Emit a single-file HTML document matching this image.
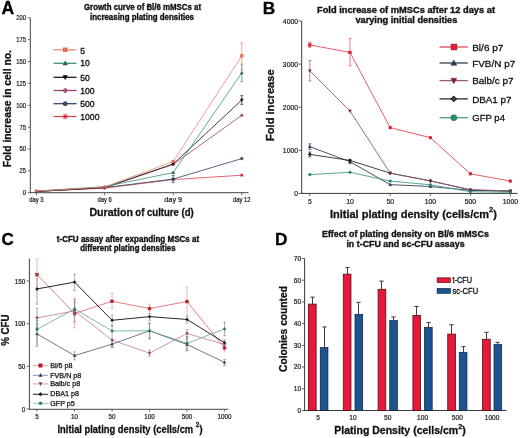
<!DOCTYPE html>
<html><head><meta charset="utf-8"><style>
html,body{margin:0;padding:0;background:#fff;}
body{width:520px;height:438px;overflow:hidden;}
svg{display:block;font-family:"Liberation Sans", sans-serif;will-change:transform;filter:blur(0.3px);}
</style></head><body>
<svg width="520" height="438" viewBox="0 0 520 438">
<rect width="520" height="438" fill="#fff"/>
<text x="1.60" y="13.70" font-size="17.6" font-weight="bold" fill="#000" stroke="#000" stroke-width="0.3">A</text>
<text x="84.00" y="9.80" font-size="8.8" font-weight="bold" fill="#111" stroke="#111" stroke-width="0.36" textLength="117" lengthAdjust="spacingAndGlyphs">Growth curve of Bl/6 mMSCs at</text>
<text x="90.00" y="20.20" font-size="8.8" font-weight="bold" fill="#111" stroke="#111" stroke-width="0.36" textLength="104" lengthAdjust="spacingAndGlyphs">increasing plating densities</text>
<line x1="30.30" y1="17.80" x2="30.30" y2="193.15" stroke="#3a3a3a" stroke-width="0.95"/>
<line x1="29.85" y1="192.70" x2="248.50" y2="192.70" stroke="#3a3a3a" stroke-width="0.95"/>
<line x1="27.70" y1="192.70" x2="30.30" y2="192.70" stroke="#3a3a3a" stroke-width="0.7"/>
<text x="26.10" y="195.20" font-size="6.9" text-anchor="end" fill="#1a1a1a" stroke="#1a1a1a" stroke-width="0.2" textLength="3.2804000000000006" lengthAdjust="spacingAndGlyphs">0</text>
<line x1="27.70" y1="170.84" x2="30.30" y2="170.84" stroke="#3a3a3a" stroke-width="0.7"/>
<text x="26.10" y="173.34" font-size="6.9" text-anchor="end" fill="#1a1a1a" stroke="#1a1a1a" stroke-width="0.2" textLength="6.560800000000001" lengthAdjust="spacingAndGlyphs">25</text>
<line x1="27.70" y1="148.97" x2="30.30" y2="148.97" stroke="#3a3a3a" stroke-width="0.7"/>
<text x="26.10" y="151.47" font-size="6.9" text-anchor="end" fill="#1a1a1a" stroke="#1a1a1a" stroke-width="0.2" textLength="6.560800000000001" lengthAdjust="spacingAndGlyphs">50</text>
<line x1="27.70" y1="127.11" x2="30.30" y2="127.11" stroke="#3a3a3a" stroke-width="0.7"/>
<text x="26.10" y="129.61" font-size="6.9" text-anchor="end" fill="#1a1a1a" stroke="#1a1a1a" stroke-width="0.2" textLength="6.560800000000001" lengthAdjust="spacingAndGlyphs">75</text>
<line x1="27.70" y1="105.25" x2="30.30" y2="105.25" stroke="#3a3a3a" stroke-width="0.7"/>
<text x="26.10" y="107.75" font-size="6.9" text-anchor="end" fill="#1a1a1a" stroke="#1a1a1a" stroke-width="0.2" textLength="9.841200000000002" lengthAdjust="spacingAndGlyphs">100</text>
<line x1="27.70" y1="83.39" x2="30.30" y2="83.39" stroke="#3a3a3a" stroke-width="0.7"/>
<text x="26.10" y="85.89" font-size="6.9" text-anchor="end" fill="#1a1a1a" stroke="#1a1a1a" stroke-width="0.2" textLength="9.841200000000002" lengthAdjust="spacingAndGlyphs">125</text>
<line x1="27.70" y1="61.53" x2="30.30" y2="61.53" stroke="#3a3a3a" stroke-width="0.7"/>
<text x="26.10" y="64.03" font-size="6.9" text-anchor="end" fill="#1a1a1a" stroke="#1a1a1a" stroke-width="0.2" textLength="9.841200000000002" lengthAdjust="spacingAndGlyphs">150</text>
<line x1="27.70" y1="39.66" x2="30.30" y2="39.66" stroke="#3a3a3a" stroke-width="0.7"/>
<text x="26.10" y="42.16" font-size="6.9" text-anchor="end" fill="#1a1a1a" stroke="#1a1a1a" stroke-width="0.2" textLength="9.841200000000002" lengthAdjust="spacingAndGlyphs">175</text>
<line x1="27.70" y1="17.80" x2="30.30" y2="17.80" stroke="#3a3a3a" stroke-width="0.7"/>
<text x="26.10" y="20.30" font-size="6.9" text-anchor="end" fill="#1a1a1a" stroke="#1a1a1a" stroke-width="0.2" textLength="9.841200000000002" lengthAdjust="spacingAndGlyphs">200</text>
<line x1="36.40" y1="192.70" x2="36.40" y2="195.30" stroke="#3a3a3a" stroke-width="0.7"/>
<text x="36.40" y="202.40" font-size="6.3" text-anchor="middle" fill="#1a1a1a" stroke="#1a1a1a" stroke-width="0.2" textLength="14.431400000000002" lengthAdjust="spacingAndGlyphs">day 3</text>
<line x1="104.60" y1="192.70" x2="104.60" y2="195.30" stroke="#3a3a3a" stroke-width="0.7"/>
<text x="104.60" y="202.40" font-size="6.3" text-anchor="middle" fill="#1a1a1a" stroke="#1a1a1a" stroke-width="0.2" textLength="14.431400000000002" lengthAdjust="spacingAndGlyphs">day 6</text>
<line x1="173.20" y1="192.70" x2="173.20" y2="195.30" stroke="#3a3a3a" stroke-width="0.7"/>
<text x="173.20" y="202.40" font-size="6.3" text-anchor="middle" fill="#1a1a1a" stroke="#1a1a1a" stroke-width="0.2" textLength="17.7118" lengthAdjust="spacingAndGlyphs">day 9</text>
<line x1="241.80" y1="192.70" x2="241.80" y2="195.30" stroke="#3a3a3a" stroke-width="0.7"/>
<text x="241.80" y="202.40" font-size="6.3" text-anchor="middle" fill="#1a1a1a" stroke="#1a1a1a" stroke-width="0.2" textLength="17.7118" lengthAdjust="spacingAndGlyphs">day 12</text>
<text x="89.40" y="216.00" font-size="10.4" font-weight="bold" fill="#111" stroke="#111" stroke-width="0.28" textLength="43.6" lengthAdjust="spacingAndGlyphs">Duration</text>
<text x="135.30" y="216.00" font-size="10.4" font-weight="bold" fill="#111" stroke="#111" stroke-width="0.28" textLength="58.5" lengthAdjust="spacingAndGlyphs">of culture (d)</text>
<text x="10.70" y="167.30" font-size="10.2" font-weight="bold" fill="#111" stroke="#111" stroke-width="0.28" textLength="117.3" lengthAdjust="spacingAndGlyphs" transform="rotate(-90 10.70 167.30)">Fold increase in cell no.</text>
<polyline points="36.40,191.39 104.60,188.15 173.20,179.58 241.80,175.21" fill="none" stroke="#d8404f" stroke-width="0.8" stroke-linejoin="round"/>
<path d="M35.20,191.39H37.60M36.40,190.19V192.59M35.50,190.49L37.30,192.29M35.50,192.29L37.30,190.49" stroke="#d0203a" stroke-width="1.0" fill="none"/>
<path d="M103.40,188.15H105.80M104.60,186.95V189.35M103.70,187.25L105.50,189.05M103.70,189.05L105.50,187.25" stroke="#d0203a" stroke-width="1.0" fill="none"/>
<path d="M171.64,179.58H174.76M173.20,178.02V181.14M172.03,178.41L174.37,180.75M172.03,180.75L174.37,178.41" stroke="#d0203a" stroke-width="1.0" fill="none"/>
<path d="M240.24,175.21H243.36M241.80,173.65V176.77M240.63,174.04L242.97,176.38M240.63,176.38L242.97,174.04" stroke="#d0203a" stroke-width="1.0" fill="none"/>
<polyline points="36.40,191.39 104.60,187.63 173.20,179.06 241.80,158.59" fill="none" stroke="#2a4264" stroke-width="0.8" stroke-linejoin="round"/>
<line x1="173.20" y1="175.56" x2="173.20" y2="182.56" stroke="#2a4264" stroke-width="0.7"/>
<line x1="171.80" y1="175.56" x2="174.60" y2="175.56" stroke="#2a4264" stroke-width="0.7"/>
<line x1="171.80" y1="182.56" x2="174.60" y2="182.56" stroke="#2a4264" stroke-width="0.7"/>
<circle cx="36.40" cy="191.39" r="1.00" fill="#3a5878" stroke="#14283f" stroke-width="0.5"/>
<circle cx="104.60" cy="187.63" r="1.00" fill="#3a5878" stroke="#14283f" stroke-width="0.5"/>
<circle cx="173.20" cy="179.06" r="1.30" fill="#3a5878" stroke="#14283f" stroke-width="0.5"/>
<circle cx="241.80" cy="158.59" r="1.30" fill="#3a5878" stroke="#14283f" stroke-width="0.5"/>
<polyline points="36.40,191.39 104.60,187.89 173.20,164.45 241.80,115.31" fill="none" stroke="#93406e" stroke-width="0.8" stroke-linejoin="round"/>
<path d="M36.40,190.19 L37.60,191.39 L36.40,192.59 L35.20,191.39 Z" fill="#b05585" stroke="#7a2050" stroke-width="0.5"/>
<path d="M104.60,186.69 L105.80,187.89 L104.60,189.09 L103.40,187.89 Z" fill="#b05585" stroke="#7a2050" stroke-width="0.5"/>
<path d="M173.20,162.89 L174.76,164.45 L173.20,166.01 L171.64,164.45 Z" fill="#b05585" stroke="#7a2050" stroke-width="0.5"/>
<path d="M241.80,113.75 L243.36,115.31 L241.80,116.87 L240.24,115.31 Z" fill="#b05585" stroke="#7a2050" stroke-width="0.5"/>
<polyline points="36.40,191.39 104.60,187.45 173.20,164.02 241.80,100.00" fill="none" stroke="#111111" stroke-width="0.8" stroke-linejoin="round"/>
<line x1="241.80" y1="95.63" x2="241.80" y2="104.38" stroke="#111111" stroke-width="0.7"/>
<line x1="240.40" y1="95.63" x2="243.20" y2="95.63" stroke="#111111" stroke-width="0.7"/>
<line x1="240.40" y1="104.38" x2="243.20" y2="104.38" stroke="#111111" stroke-width="0.7"/>
<path d="M36.40,192.54 L37.50,190.54 L35.30,190.54 Z" fill="#000" stroke="#000" stroke-width="0.5"/>
<path d="M104.60,188.60 L105.70,186.60 L103.50,186.60 Z" fill="#000" stroke="#000" stroke-width="0.5"/>
<path d="M173.20,165.51 L174.63,162.91 L171.77,162.91 Z" fill="#000" stroke="#000" stroke-width="0.5"/>
<path d="M241.80,101.50 L243.23,98.90 L240.37,98.90 Z" fill="#000" stroke="#000" stroke-width="0.5"/>
<polyline points="36.40,191.13 104.60,186.58 173.20,172.59 241.80,72.89" fill="none" stroke="#35907e" stroke-width="0.8" stroke-linejoin="round"/>
<line x1="241.80" y1="64.15" x2="241.80" y2="81.64" stroke="#35907e" stroke-width="0.7"/>
<line x1="240.40" y1="64.15" x2="243.20" y2="64.15" stroke="#35907e" stroke-width="0.7"/>
<line x1="240.40" y1="81.64" x2="243.20" y2="81.64" stroke="#35907e" stroke-width="0.7"/>
<path d="M36.40,189.98 L37.50,191.98 L35.30,191.98 Z" fill="#216a4c" stroke="#1a5a40" stroke-width="0.5"/>
<path d="M104.60,185.43 L105.70,187.43 L103.50,187.43 Z" fill="#216a4c" stroke="#1a5a40" stroke-width="0.5"/>
<path d="M173.20,171.09 L174.63,173.69 L171.77,173.69 Z" fill="#216a4c" stroke="#1a5a40" stroke-width="0.5"/>
<path d="M241.80,71.40 L243.23,74.00 L240.37,74.00 Z" fill="#216a4c" stroke="#1a5a40" stroke-width="0.5"/>
<polyline points="36.40,190.95 104.60,187.02 173.20,161.57 241.80,55.84" fill="none" stroke="#f0886a" stroke-width="0.8" stroke-linejoin="round"/>
<line x1="241.80" y1="43.16" x2="241.80" y2="69.40" stroke="#f0886a" stroke-width="0.7"/>
<line x1="240.40" y1="43.16" x2="243.20" y2="43.16" stroke="#f0886a" stroke-width="0.7"/>
<line x1="240.40" y1="69.40" x2="243.20" y2="69.40" stroke="#f0886a" stroke-width="0.7"/>
<rect x="35.40" y="189.95" width="2.00" height="2.00" fill="#f2765c" stroke="#d8553e" stroke-width="0.5"/>
<rect x="103.60" y="186.02" width="2.00" height="2.00" fill="#f2765c" stroke="#d8553e" stroke-width="0.5"/>
<rect x="171.90" y="160.27" width="2.60" height="2.60" fill="#f2765c" stroke="#d8553e" stroke-width="0.5"/>
<rect x="240.50" y="54.54" width="2.60" height="2.60" fill="#f2765c" stroke="#d8553e" stroke-width="0.5"/>
<line x1="53.50" y1="49.80" x2="76.60" y2="49.80" stroke="#f0886a" stroke-width="1.25"/>
<rect x="63.35" y="47.95" width="3.70" height="3.70" fill="#f2765c" stroke="#d8553e" stroke-width="0.7"/>
<text x="80.30" y="53.50" font-size="9.3" fill="#111" stroke="#111" stroke-width="0.35" textLength="4.7816" lengthAdjust="spacingAndGlyphs">5</text>
<line x1="53.50" y1="63.30" x2="76.60" y2="63.30" stroke="#35907e" stroke-width="1.25"/>
<path d="M65.20,61.00 L67.40,65.00 L63.00,65.00 Z" fill="#216a4c" stroke="#1a5a40" stroke-width="0.5"/>
<text x="80.30" y="66.40" font-size="9.3" fill="#111" stroke="#111" stroke-width="0.35" textLength="9.5632" lengthAdjust="spacingAndGlyphs">10</text>
<line x1="53.50" y1="77.30" x2="76.60" y2="77.30" stroke="#111111" stroke-width="1.25"/>
<path d="M65.20,79.60 L67.40,75.60 L63.00,75.60 Z" fill="#000" stroke="#000" stroke-width="0.5"/>
<text x="80.30" y="80.70" font-size="9.3" fill="#111" stroke="#111" stroke-width="0.35" textLength="9.5632" lengthAdjust="spacingAndGlyphs">50</text>
<line x1="53.50" y1="90.50" x2="76.60" y2="90.50" stroke="#93406e" stroke-width="1.25"/>
<path d="M65.20,88.22 L67.48,90.50 L65.20,92.78 L62.92,90.50 Z" fill="#b05585" stroke="#7a2050" stroke-width="0.8"/>
<text x="80.30" y="93.70" font-size="9.3" fill="#111" stroke="#111" stroke-width="0.35" textLength="14.3448" lengthAdjust="spacingAndGlyphs">100</text>
<line x1="53.50" y1="103.70" x2="76.60" y2="103.70" stroke="#2a4264" stroke-width="1.25"/>
<circle cx="65.20" cy="103.70" r="1.95" fill="#3a5878" stroke="#14283f" stroke-width="0.8"/>
<text x="80.30" y="106.90" font-size="9.3" fill="#111" stroke="#111" stroke-width="0.35" textLength="14.3448" lengthAdjust="spacingAndGlyphs">500</text>
<line x1="53.50" y1="116.50" x2="76.60" y2="116.50" stroke="#d8404f" stroke-width="1.25"/>
<path d="M62.32,116.50H68.08M65.20,113.62V119.38M63.04,114.34L67.36,118.66M63.04,118.66L67.36,114.34" stroke="#d0203a" stroke-width="1.0" fill="none"/>
<text x="80.30" y="119.60" font-size="9.3" fill="#111" stroke="#111" stroke-width="0.35" textLength="19.1264" lengthAdjust="spacingAndGlyphs">1000</text>
<text x="262.80" y="14.00" font-size="17.3" font-weight="bold" fill="#000" stroke="#000" stroke-width="0.3">B</text>
<text x="317.00" y="12.70" font-size="9.3" font-weight="bold" fill="#111" stroke="#111" stroke-width="0.36" textLength="178" lengthAdjust="spacingAndGlyphs">Fold increase of mMSCs after 12 days at</text>
<text x="355.40" y="23.00" font-size="9.3" font-weight="bold" fill="#111" stroke="#111" stroke-width="0.36" textLength="102" lengthAdjust="spacingAndGlyphs">varying initial densities</text>
<line x1="301.70" y1="21.00" x2="301.70" y2="193.90" stroke="#3a3a3a" stroke-width="1.0"/>
<line x1="301.20" y1="193.40" x2="517.50" y2="193.40" stroke="#3a3a3a" stroke-width="1.0"/>
<line x1="298.50" y1="193.40" x2="301.70" y2="193.40" stroke="#3a3a3a" stroke-width="0.8"/>
<text x="298.10" y="196.00" font-size="7.2" text-anchor="end" fill="#1a1a1a" stroke="#1a1a1a" stroke-width="0.2" textLength="3.8086" lengthAdjust="spacingAndGlyphs">0</text>
<line x1="298.50" y1="150.30" x2="301.70" y2="150.30" stroke="#3a3a3a" stroke-width="0.8"/>
<text x="298.10" y="152.90" font-size="7.2" text-anchor="end" fill="#1a1a1a" stroke="#1a1a1a" stroke-width="0.2" textLength="15.2344" lengthAdjust="spacingAndGlyphs">1000</text>
<line x1="298.50" y1="107.20" x2="301.70" y2="107.20" stroke="#3a3a3a" stroke-width="0.8"/>
<text x="298.10" y="109.80" font-size="7.2" text-anchor="end" fill="#1a1a1a" stroke="#1a1a1a" stroke-width="0.2" textLength="15.2344" lengthAdjust="spacingAndGlyphs">2000</text>
<line x1="298.50" y1="64.10" x2="301.70" y2="64.10" stroke="#3a3a3a" stroke-width="0.8"/>
<text x="298.10" y="66.70" font-size="7.2" text-anchor="end" fill="#1a1a1a" stroke="#1a1a1a" stroke-width="0.2" textLength="15.2344" lengthAdjust="spacingAndGlyphs">3000</text>
<line x1="298.50" y1="21.00" x2="301.70" y2="21.00" stroke="#3a3a3a" stroke-width="0.8"/>
<text x="298.10" y="23.60" font-size="7.2" text-anchor="end" fill="#1a1a1a" stroke="#1a1a1a" stroke-width="0.2" textLength="15.2344" lengthAdjust="spacingAndGlyphs">4000</text>
<line x1="309.80" y1="193.40" x2="309.80" y2="195.90" stroke="#3a3a3a" stroke-width="0.8"/>
<text x="309.80" y="203.60" font-size="7.2" text-anchor="middle" fill="#1a1a1a" stroke="#1a1a1a" stroke-width="0.2" textLength="3.8086" lengthAdjust="spacingAndGlyphs">5</text>
<line x1="350.00" y1="193.40" x2="350.00" y2="195.90" stroke="#3a3a3a" stroke-width="0.8"/>
<text x="350.00" y="203.60" font-size="7.2" text-anchor="middle" fill="#1a1a1a" stroke="#1a1a1a" stroke-width="0.2" textLength="7.6172" lengthAdjust="spacingAndGlyphs">10</text>
<line x1="390.20" y1="193.40" x2="390.20" y2="195.90" stroke="#3a3a3a" stroke-width="0.8"/>
<text x="390.20" y="203.60" font-size="7.2" text-anchor="middle" fill="#1a1a1a" stroke="#1a1a1a" stroke-width="0.2" textLength="7.6172" lengthAdjust="spacingAndGlyphs">50</text>
<line x1="430.40" y1="193.40" x2="430.40" y2="195.90" stroke="#3a3a3a" stroke-width="0.8"/>
<text x="430.40" y="203.60" font-size="7.2" text-anchor="middle" fill="#1a1a1a" stroke="#1a1a1a" stroke-width="0.2" textLength="11.4258" lengthAdjust="spacingAndGlyphs">100</text>
<line x1="470.40" y1="193.40" x2="470.40" y2="195.90" stroke="#3a3a3a" stroke-width="0.8"/>
<text x="470.40" y="203.60" font-size="7.2" text-anchor="middle" fill="#1a1a1a" stroke="#1a1a1a" stroke-width="0.2" textLength="11.4258" lengthAdjust="spacingAndGlyphs">500</text>
<line x1="510.40" y1="193.40" x2="510.40" y2="195.90" stroke="#3a3a3a" stroke-width="0.8"/>
<text x="510.40" y="203.60" font-size="7.2" text-anchor="middle" fill="#1a1a1a" stroke="#1a1a1a" stroke-width="0.2" textLength="15.2344" lengthAdjust="spacingAndGlyphs">1000</text>
<text x="330" y="218.2" font-size="11.3" font-weight="bold" fill="#111" stroke="#111" stroke-width="0.28" textLength="167" lengthAdjust="spacingAndGlyphs">Initial plating density (cells/cm<tspan font-size="7.8" dy="-5.8">2</tspan><tspan dy="5.8">)</tspan></text>
<text x="274.00" y="141.00" font-size="11.2" font-weight="bold" fill="#111" stroke="#111" stroke-width="0.28" textLength="71.6" lengthAdjust="spacingAndGlyphs" transform="rotate(-90 274.00 141.00)">Fold increase</text>
<polyline points="309.80,44.92 350.00,52.46 390.20,127.67 430.40,137.67 470.40,173.79 510.40,181.12" fill="none" stroke="#e04a58" stroke-width="0.9" stroke-linejoin="round"/>
<line x1="309.80" y1="42.12" x2="309.80" y2="47.29" stroke="#e04a58" stroke-width="0.7"/>
<line x1="308.20" y1="42.12" x2="311.40" y2="42.12" stroke="#e04a58" stroke-width="0.7"/>
<line x1="308.20" y1="47.29" x2="311.40" y2="47.29" stroke="#e04a58" stroke-width="0.7"/>
<line x1="350.00" y1="38.67" x2="350.00" y2="65.82" stroke="#e04a58" stroke-width="0.7"/>
<line x1="348.40" y1="38.67" x2="351.60" y2="38.67" stroke="#e04a58" stroke-width="0.7"/>
<line x1="348.40" y1="65.82" x2="351.60" y2="65.82" stroke="#e04a58" stroke-width="0.7"/>
<rect x="308.50" y="43.62" width="2.60" height="2.60" fill="#d81e34" stroke="#d81e34" stroke-width="0.5"/>
<rect x="348.70" y="51.16" width="2.60" height="2.60" fill="#d81e34" stroke="#d81e34" stroke-width="0.5"/>
<rect x="388.90" y="126.37" width="2.60" height="2.60" fill="#d81e34" stroke="#d81e34" stroke-width="0.5"/>
<rect x="429.10" y="136.37" width="2.60" height="2.60" fill="#d81e34" stroke="#d81e34" stroke-width="0.5"/>
<rect x="469.10" y="172.49" width="2.60" height="2.60" fill="#d81e34" stroke="#d81e34" stroke-width="0.5"/>
<rect x="509.10" y="179.82" width="2.60" height="2.60" fill="#d81e34" stroke="#d81e34" stroke-width="0.5"/>
<polyline points="309.80,146.64 350.00,161.72 390.20,184.65 430.40,186.50 470.40,190.38 510.40,191.03" fill="none" stroke="#363f55" stroke-width="0.9" stroke-linejoin="round"/>
<line x1="309.80" y1="143.84" x2="309.80" y2="149.44" stroke="#363f55" stroke-width="0.7"/>
<line x1="308.20" y1="143.84" x2="311.40" y2="143.84" stroke="#363f55" stroke-width="0.7"/>
<line x1="308.20" y1="149.44" x2="311.40" y2="149.44" stroke="#363f55" stroke-width="0.7"/>
<line x1="350.00" y1="159.35" x2="350.00" y2="163.66" stroke="#363f55" stroke-width="0.7"/>
<line x1="348.40" y1="159.35" x2="351.60" y2="159.35" stroke="#363f55" stroke-width="0.7"/>
<line x1="348.40" y1="163.66" x2="351.60" y2="163.66" stroke="#363f55" stroke-width="0.7"/>
<path d="M309.80,145.14 L311.23,147.74 L308.37,147.74 Z" fill="#22345a" stroke="#22345a" stroke-width="0.5"/>
<path d="M350.00,160.23 L351.43,162.83 L348.57,162.83 Z" fill="#22345a" stroke="#22345a" stroke-width="0.5"/>
<path d="M390.20,183.16 L391.63,185.76 L388.77,185.76 Z" fill="#22345a" stroke="#22345a" stroke-width="0.5"/>
<path d="M430.40,185.01 L431.83,187.61 L428.97,187.61 Z" fill="#22345a" stroke="#22345a" stroke-width="0.5"/>
<path d="M470.40,188.89 L471.83,191.49 L468.97,191.49 Z" fill="#22345a" stroke="#22345a" stroke-width="0.5"/>
<path d="M510.40,189.53 L511.83,192.13 L508.97,192.13 Z" fill="#22345a" stroke="#22345a" stroke-width="0.5"/>
<polyline points="309.80,154.39 350.00,160.43 390.20,173.14 430.40,180.90 470.40,189.95 510.40,191.25" fill="none" stroke="#2a2a2a" stroke-width="0.9" stroke-linejoin="round"/>
<line x1="309.80" y1="152.02" x2="309.80" y2="156.77" stroke="#2a2a2a" stroke-width="0.7"/>
<line x1="308.20" y1="152.02" x2="311.40" y2="152.02" stroke="#2a2a2a" stroke-width="0.7"/>
<line x1="308.20" y1="156.77" x2="311.40" y2="156.77" stroke="#2a2a2a" stroke-width="0.7"/>
<path d="M309.80,152.83 L311.36,154.39 L309.80,155.95 L308.24,154.39 Z" fill="#111111" stroke="#111111" stroke-width="0.5"/>
<path d="M350.00,158.87 L351.56,160.43 L350.00,161.99 L348.44,160.43 Z" fill="#111111" stroke="#111111" stroke-width="0.5"/>
<path d="M390.20,171.58 L391.76,173.14 L390.20,174.70 L388.64,173.14 Z" fill="#111111" stroke="#111111" stroke-width="0.5"/>
<path d="M430.40,179.34 L431.96,180.90 L430.40,182.46 L428.84,180.90 Z" fill="#111111" stroke="#111111" stroke-width="0.5"/>
<path d="M470.40,188.39 L471.96,189.95 L470.40,191.51 L468.84,189.95 Z" fill="#111111" stroke="#111111" stroke-width="0.5"/>
<path d="M510.40,189.69 L511.96,191.25 L510.40,192.81 L508.84,191.25 Z" fill="#111111" stroke="#111111" stroke-width="0.5"/>
<polyline points="309.80,70.78 350.00,110.99 390.20,173.14 430.40,180.90 470.40,189.74 510.40,190.81" fill="none" stroke="#925c7c" stroke-width="0.9" stroke-linejoin="round"/>
<line x1="309.80" y1="60.65" x2="309.80" y2="80.91" stroke="#925c7c" stroke-width="0.7"/>
<line x1="308.20" y1="60.65" x2="311.40" y2="60.65" stroke="#925c7c" stroke-width="0.7"/>
<line x1="308.20" y1="80.91" x2="311.40" y2="80.91" stroke="#925c7c" stroke-width="0.7"/>
<path d="M309.80,72.28 L311.23,69.68 L308.37,69.68 Z" fill="#7a2448" stroke="#7a2448" stroke-width="0.5"/>
<path d="M350.00,112.49 L351.43,109.89 L348.57,109.89 Z" fill="#7a2448" stroke="#7a2448" stroke-width="0.5"/>
<path d="M390.20,174.64 L391.63,172.04 L388.77,172.04 Z" fill="#7a2448" stroke="#7a2448" stroke-width="0.5"/>
<path d="M430.40,182.40 L431.83,179.80 L428.97,179.80 Z" fill="#7a2448" stroke="#7a2448" stroke-width="0.5"/>
<path d="M470.40,191.23 L471.83,188.63 L468.97,188.63 Z" fill="#7a2448" stroke="#7a2448" stroke-width="0.5"/>
<path d="M510.40,192.31 L511.83,189.71 L508.97,189.71 Z" fill="#7a2448" stroke="#7a2448" stroke-width="0.5"/>
<polyline points="309.80,174.65 350.00,172.28 390.20,181.12 430.40,184.78 470.40,191.68 510.40,192.32" fill="none" stroke="#4a9a8c" stroke-width="0.9" stroke-linejoin="round"/>
<circle cx="309.80" cy="174.65" r="1.30" fill="#2a8068" stroke="#2a8068" stroke-width="0.5"/>
<circle cx="350.00" cy="172.28" r="1.30" fill="#2a8068" stroke="#2a8068" stroke-width="0.5"/>
<circle cx="390.20" cy="181.12" r="1.30" fill="#2a8068" stroke="#2a8068" stroke-width="0.5"/>
<circle cx="430.40" cy="184.78" r="1.30" fill="#2a8068" stroke="#2a8068" stroke-width="0.5"/>
<circle cx="470.40" cy="191.68" r="1.30" fill="#2a8068" stroke="#2a8068" stroke-width="0.5"/>
<circle cx="510.40" cy="192.32" r="1.30" fill="#2a8068" stroke="#2a8068" stroke-width="0.5"/>
<line x1="439.50" y1="47.00" x2="467.80" y2="47.00" stroke="#e04a58" stroke-width="1.3"/>
<rect x="451.10" y="44.10" width="5.80" height="5.80" fill="#e8203a" stroke="#8a1020" stroke-width="0.6"/>
<text x="472.20" y="50.80" font-size="9.8" fill="#111" stroke="#111" stroke-width="0.3" textLength="31.2" lengthAdjust="spacingAndGlyphs">Bl/6 p7</text>
<line x1="439.50" y1="63.00" x2="467.80" y2="63.00" stroke="#363f55" stroke-width="1.3"/>
<path d="M453.80,59.90 L456.77,65.30 L450.83,65.30 Z" fill="#22345a" stroke="#22345a" stroke-width="0.5"/>
<text x="472.20" y="66.50" font-size="9.8" fill="#111" stroke="#111" stroke-width="0.3" textLength="43.0" lengthAdjust="spacingAndGlyphs">FVB/N p7</text>
<line x1="439.50" y1="80.60" x2="467.80" y2="80.60" stroke="#925c7c" stroke-width="1.3"/>
<path d="M453.80,83.70 L456.77,78.30 L450.83,78.30 Z" fill="#7a2448" stroke="#7a2448" stroke-width="0.5"/>
<text x="472.20" y="84.30" font-size="9.8" fill="#111" stroke="#111" stroke-width="0.3" textLength="41.2" lengthAdjust="spacingAndGlyphs">Balb/c p7</text>
<line x1="439.50" y1="98.90" x2="467.80" y2="98.90" stroke="#2a2a2a" stroke-width="1.3"/>
<path d="M453.70,96.02 L456.58,98.90 L453.70,101.78 L450.82,98.90 Z" fill="#444" stroke="#000" stroke-width="0.9"/>
<text x="472.20" y="103.00" font-size="9.8" fill="#111" stroke="#111" stroke-width="0.3" textLength="39.3" lengthAdjust="spacingAndGlyphs">DBA1 p7</text>
<line x1="439.50" y1="117.70" x2="467.80" y2="117.70" stroke="#4a9a8c" stroke-width="1.3"/>
<circle cx="453.80" cy="117.70" r="3.00" fill="#2e8f72" stroke="#1f6a52" stroke-width="0.6"/>
<text x="472.20" y="121.40" font-size="9.8" fill="#111" stroke="#111" stroke-width="0.3" textLength="32.8" lengthAdjust="spacingAndGlyphs">GFP p4</text>
<text x="1.60" y="244.80" font-size="17.0" font-weight="bold" fill="#000" stroke="#000" stroke-width="0.3">C</text>
<text x="56.80" y="242.20" font-size="8.3" font-weight="bold" fill="#111" stroke="#111" stroke-width="0.36" textLength="142.4" lengthAdjust="spacingAndGlyphs">t-CFU assay after expanding MSCs at</text>
<text x="80.20" y="250.70" font-size="8.3" font-weight="bold" fill="#111" stroke="#111" stroke-width="0.36" textLength="95.4" lengthAdjust="spacingAndGlyphs">different plating densities</text>
<line x1="29.40" y1="258.60" x2="29.40" y2="409.75" stroke="#3a3a3a" stroke-width="0.95"/>
<line x1="28.95" y1="409.30" x2="228.30" y2="409.30" stroke="#3a3a3a" stroke-width="0.95"/>
<line x1="26.40" y1="408.90" x2="29.40" y2="408.90" stroke="#3a3a3a" stroke-width="0.7"/>
<text x="25.20" y="411.50" font-size="6.3" text-anchor="end" fill="#1a1a1a" stroke="#1a1a1a" stroke-width="0.2">0</text>
<line x1="26.40" y1="366.30" x2="29.40" y2="366.30" stroke="#3a3a3a" stroke-width="0.7"/>
<text x="25.20" y="368.90" font-size="6.3" text-anchor="end" fill="#1a1a1a" stroke="#1a1a1a" stroke-width="0.2">50</text>
<line x1="26.40" y1="323.70" x2="29.40" y2="323.70" stroke="#3a3a3a" stroke-width="0.7"/>
<text x="25.20" y="326.30" font-size="6.3" text-anchor="end" fill="#1a1a1a" stroke="#1a1a1a" stroke-width="0.2">100</text>
<line x1="26.40" y1="281.10" x2="29.40" y2="281.10" stroke="#3a3a3a" stroke-width="0.7"/>
<text x="25.20" y="283.70" font-size="6.3" text-anchor="end" fill="#1a1a1a" stroke="#1a1a1a" stroke-width="0.2">150</text>
<line x1="37.00" y1="409.30" x2="37.00" y2="411.60" stroke="#3a3a3a" stroke-width="0.7"/>
<text x="37.00" y="418.60" font-size="6.3" text-anchor="middle" fill="#1a1a1a" stroke="#1a1a1a" stroke-width="0.2">5</text>
<line x1="74.60" y1="409.30" x2="74.60" y2="411.60" stroke="#3a3a3a" stroke-width="0.7"/>
<text x="74.60" y="418.60" font-size="6.3" text-anchor="middle" fill="#1a1a1a" stroke="#1a1a1a" stroke-width="0.2">10</text>
<line x1="112.10" y1="409.30" x2="112.10" y2="411.60" stroke="#3a3a3a" stroke-width="0.7"/>
<text x="112.10" y="418.60" font-size="6.3" text-anchor="middle" fill="#1a1a1a" stroke="#1a1a1a" stroke-width="0.2">50</text>
<line x1="149.50" y1="409.30" x2="149.50" y2="411.60" stroke="#3a3a3a" stroke-width="0.7"/>
<text x="149.50" y="418.60" font-size="6.3" text-anchor="middle" fill="#1a1a1a" stroke="#1a1a1a" stroke-width="0.2">100</text>
<line x1="187.00" y1="409.30" x2="187.00" y2="411.60" stroke="#3a3a3a" stroke-width="0.7"/>
<text x="187.00" y="418.60" font-size="6.3" text-anchor="middle" fill="#1a1a1a" stroke="#1a1a1a" stroke-width="0.2">500</text>
<line x1="224.50" y1="409.30" x2="224.50" y2="411.60" stroke="#3a3a3a" stroke-width="0.7"/>
<text x="224.50" y="418.60" font-size="6.3" text-anchor="middle" fill="#1a1a1a" stroke="#1a1a1a" stroke-width="0.2">1000</text>
<text x="57.5" y="432.8" font-size="10.4" font-weight="bold" fill="#111" stroke="#111" stroke-width="0.28" textLength="145" lengthAdjust="spacingAndGlyphs">Initial plating density (cells/cm <tspan font-size="7.2" dy="-5.4">2</tspan><tspan dy="5.4">)</tspan></text>
<text x="9.00" y="345.80" font-size="10.0" font-weight="bold" fill="#111" stroke="#111" stroke-width="0.28" textLength="31.4" lengthAdjust="spacingAndGlyphs" transform="rotate(-90 9.00 345.80)">% CFU</text>
<polyline points="37.00,274.54 74.60,313.48 112.10,301.29 149.50,308.53 187.00,301.55 224.50,347.81" fill="none" stroke="#e0505c" stroke-width="0.75" stroke-linejoin="round"/>
<line x1="37.00" y1="258.95" x2="37.00" y2="290.47" stroke="#e88890" stroke-width="0.6"/>
<line x1="35.70" y1="258.95" x2="38.30" y2="258.95" stroke="#e88890" stroke-width="0.6"/>
<line x1="35.70" y1="290.47" x2="38.30" y2="290.47" stroke="#e88890" stroke-width="0.6"/>
<line x1="74.60" y1="298.14" x2="74.60" y2="327.96" stroke="#e88890" stroke-width="0.6"/>
<line x1="73.30" y1="298.14" x2="75.90" y2="298.14" stroke="#e88890" stroke-width="0.6"/>
<line x1="73.30" y1="327.96" x2="75.90" y2="327.96" stroke="#e88890" stroke-width="0.6"/>
<line x1="112.10" y1="293.45" x2="112.10" y2="308.36" stroke="#e88890" stroke-width="0.6"/>
<line x1="110.80" y1="293.45" x2="113.40" y2="293.45" stroke="#e88890" stroke-width="0.6"/>
<line x1="110.80" y1="308.36" x2="113.40" y2="308.36" stroke="#e88890" stroke-width="0.6"/>
<line x1="149.50" y1="304.10" x2="149.50" y2="311.77" stroke="#e88890" stroke-width="0.6"/>
<line x1="148.20" y1="304.10" x2="150.80" y2="304.10" stroke="#e88890" stroke-width="0.6"/>
<line x1="148.20" y1="311.77" x2="150.80" y2="311.77" stroke="#e88890" stroke-width="0.6"/>
<line x1="187.00" y1="287.06" x2="187.00" y2="316.03" stroke="#e88890" stroke-width="0.6"/>
<line x1="185.70" y1="287.06" x2="188.30" y2="287.06" stroke="#e88890" stroke-width="0.6"/>
<line x1="185.70" y1="316.03" x2="188.30" y2="316.03" stroke="#e88890" stroke-width="0.6"/>
<line x1="224.50" y1="344.15" x2="224.50" y2="351.82" stroke="#e88890" stroke-width="0.6"/>
<line x1="223.20" y1="344.15" x2="225.80" y2="344.15" stroke="#e88890" stroke-width="0.6"/>
<line x1="223.20" y1="351.82" x2="225.80" y2="351.82" stroke="#e88890" stroke-width="0.6"/>
<rect x="35.60" y="273.14" width="2.80" height="2.80" fill="#b0202e" stroke="#b0202e" stroke-width="0.5"/>
<rect x="73.20" y="312.08" width="2.80" height="2.80" fill="#b0202e" stroke="#b0202e" stroke-width="0.5"/>
<rect x="110.70" y="299.89" width="2.80" height="2.80" fill="#b0202e" stroke="#b0202e" stroke-width="0.5"/>
<rect x="148.10" y="307.13" width="2.80" height="2.80" fill="#b0202e" stroke="#b0202e" stroke-width="0.5"/>
<rect x="185.60" y="300.15" width="2.80" height="2.80" fill="#b0202e" stroke="#b0202e" stroke-width="0.5"/>
<rect x="223.10" y="346.41" width="2.80" height="2.80" fill="#b0202e" stroke="#b0202e" stroke-width="0.5"/>
<polyline points="37.00,333.92 74.60,355.56 112.10,344.15 149.50,330.77 187.00,344.49 224.50,362.30" fill="none" stroke="#3e4c62" stroke-width="0.75" stroke-linejoin="round"/>
<line x1="37.00" y1="323.70" x2="37.00" y2="344.15" stroke="#777" stroke-width="0.6"/>
<line x1="35.70" y1="323.70" x2="38.30" y2="323.70" stroke="#777" stroke-width="0.6"/>
<line x1="35.70" y1="344.15" x2="38.30" y2="344.15" stroke="#777" stroke-width="0.6"/>
<line x1="74.60" y1="351.82" x2="74.60" y2="359.91" stroke="#777" stroke-width="0.6"/>
<line x1="73.30" y1="351.82" x2="75.90" y2="351.82" stroke="#777" stroke-width="0.6"/>
<line x1="73.30" y1="359.91" x2="75.90" y2="359.91" stroke="#777" stroke-width="0.6"/>
<line x1="112.10" y1="340.74" x2="112.10" y2="347.56" stroke="#777" stroke-width="0.6"/>
<line x1="110.80" y1="340.74" x2="113.40" y2="340.74" stroke="#777" stroke-width="0.6"/>
<line x1="110.80" y1="347.56" x2="113.40" y2="347.56" stroke="#777" stroke-width="0.6"/>
<line x1="149.50" y1="323.70" x2="149.50" y2="338.18" stroke="#777" stroke-width="0.6"/>
<line x1="148.20" y1="323.70" x2="150.80" y2="323.70" stroke="#777" stroke-width="0.6"/>
<line x1="148.20" y1="338.18" x2="150.80" y2="338.18" stroke="#777" stroke-width="0.6"/>
<line x1="187.00" y1="339.04" x2="187.00" y2="350.96" stroke="#777" stroke-width="0.6"/>
<line x1="185.70" y1="339.04" x2="188.30" y2="339.04" stroke="#777" stroke-width="0.6"/>
<line x1="185.70" y1="350.96" x2="188.30" y2="350.96" stroke="#777" stroke-width="0.6"/>
<line x1="224.50" y1="359.48" x2="224.50" y2="365.45" stroke="#777" stroke-width="0.6"/>
<line x1="223.20" y1="359.48" x2="225.80" y2="359.48" stroke="#777" stroke-width="0.6"/>
<line x1="223.20" y1="365.45" x2="225.80" y2="365.45" stroke="#777" stroke-width="0.6"/>
<path d="M37.00,332.54 L38.32,334.94 L35.68,334.94 Z" fill="#22365a" stroke="#22365a" stroke-width="0.5"/>
<path d="M74.60,354.18 L75.92,356.58 L73.28,356.58 Z" fill="#22365a" stroke="#22365a" stroke-width="0.5"/>
<path d="M112.10,342.77 L113.42,345.17 L110.78,345.17 Z" fill="#22365a" stroke="#22365a" stroke-width="0.5"/>
<path d="M149.50,329.39 L150.82,331.79 L148.18,331.79 Z" fill="#22365a" stroke="#22365a" stroke-width="0.5"/>
<path d="M187.00,343.11 L188.32,345.51 L185.68,345.51 Z" fill="#22365a" stroke="#22365a" stroke-width="0.5"/>
<path d="M224.50,360.92 L225.82,363.32 L223.18,363.32 Z" fill="#22365a" stroke="#22365a" stroke-width="0.5"/>
<polyline points="37.00,317.91 74.60,310.92 112.10,340.14 149.50,353.18 187.00,333.50 224.50,344.49" fill="none" stroke="#c0709a" stroke-width="0.75" stroke-linejoin="round"/>
<line x1="37.00" y1="308.36" x2="37.00" y2="327.96" stroke="#777" stroke-width="0.6"/>
<line x1="35.70" y1="308.36" x2="38.30" y2="308.36" stroke="#777" stroke-width="0.6"/>
<line x1="35.70" y1="327.96" x2="38.30" y2="327.96" stroke="#777" stroke-width="0.6"/>
<line x1="74.60" y1="299.84" x2="74.60" y2="322.00" stroke="#777" stroke-width="0.6"/>
<line x1="73.30" y1="299.84" x2="75.90" y2="299.84" stroke="#777" stroke-width="0.6"/>
<line x1="73.30" y1="322.00" x2="75.90" y2="322.00" stroke="#777" stroke-width="0.6"/>
<line x1="149.50" y1="350.11" x2="149.50" y2="356.08" stroke="#777" stroke-width="0.6"/>
<line x1="148.20" y1="350.11" x2="150.80" y2="350.11" stroke="#777" stroke-width="0.6"/>
<line x1="148.20" y1="356.08" x2="150.80" y2="356.08" stroke="#777" stroke-width="0.6"/>
<line x1="187.00" y1="329.66" x2="187.00" y2="337.33" stroke="#777" stroke-width="0.6"/>
<line x1="185.70" y1="329.66" x2="188.30" y2="329.66" stroke="#777" stroke-width="0.6"/>
<line x1="185.70" y1="337.33" x2="188.30" y2="337.33" stroke="#777" stroke-width="0.6"/>
<path d="M37.00,319.29 L38.32,316.89 L35.68,316.89 Z" fill="#8a3a66" stroke="#8a3a66" stroke-width="0.5"/>
<path d="M74.60,312.30 L75.92,309.90 L73.28,309.90 Z" fill="#8a3a66" stroke="#8a3a66" stroke-width="0.5"/>
<path d="M112.10,341.52 L113.42,339.12 L110.78,339.12 Z" fill="#8a3a66" stroke="#8a3a66" stroke-width="0.5"/>
<path d="M149.50,354.56 L150.82,352.16 L148.18,352.16 Z" fill="#8a3a66" stroke="#8a3a66" stroke-width="0.5"/>
<path d="M187.00,334.88 L188.32,332.48 L185.68,332.48 Z" fill="#8a3a66" stroke="#8a3a66" stroke-width="0.5"/>
<path d="M224.50,345.87 L225.82,343.47 L223.18,343.47 Z" fill="#8a3a66" stroke="#8a3a66" stroke-width="0.5"/>
<polyline points="37.00,288.94 74.60,282.12 112.10,320.29 149.50,316.63 187.00,319.44 224.50,342.61" fill="none" stroke="#1a1a1a" stroke-width="0.95" stroke-linejoin="round"/>
<line x1="37.00" y1="274.28" x2="37.00" y2="304.10" stroke="#777" stroke-width="0.6"/>
<line x1="35.70" y1="274.28" x2="38.30" y2="274.28" stroke="#777" stroke-width="0.6"/>
<line x1="35.70" y1="304.10" x2="38.30" y2="304.10" stroke="#777" stroke-width="0.6"/>
<line x1="74.60" y1="274.28" x2="74.60" y2="290.47" stroke="#777" stroke-width="0.6"/>
<line x1="73.30" y1="274.28" x2="75.90" y2="274.28" stroke="#777" stroke-width="0.6"/>
<line x1="73.30" y1="290.47" x2="75.90" y2="290.47" stroke="#777" stroke-width="0.6"/>
<line x1="112.10" y1="315.18" x2="112.10" y2="325.40" stroke="#777" stroke-width="0.6"/>
<line x1="110.80" y1="315.18" x2="113.40" y2="315.18" stroke="#777" stroke-width="0.6"/>
<line x1="110.80" y1="325.40" x2="113.40" y2="325.40" stroke="#777" stroke-width="0.6"/>
<line x1="149.50" y1="313.48" x2="149.50" y2="320.29" stroke="#777" stroke-width="0.6"/>
<line x1="148.20" y1="313.48" x2="150.80" y2="313.48" stroke="#777" stroke-width="0.6"/>
<line x1="148.20" y1="320.29" x2="150.80" y2="320.29" stroke="#777" stroke-width="0.6"/>
<line x1="187.00" y1="316.03" x2="187.00" y2="322.85" stroke="#777" stroke-width="0.6"/>
<line x1="185.70" y1="316.03" x2="188.30" y2="316.03" stroke="#777" stroke-width="0.6"/>
<line x1="185.70" y1="322.85" x2="188.30" y2="322.85" stroke="#777" stroke-width="0.6"/>
<line x1="224.50" y1="339.89" x2="224.50" y2="345.85" stroke="#777" stroke-width="0.6"/>
<line x1="223.20" y1="339.89" x2="225.80" y2="339.89" stroke="#777" stroke-width="0.6"/>
<line x1="223.20" y1="345.85" x2="225.80" y2="345.85" stroke="#777" stroke-width="0.6"/>
<path d="M37.00,287.50 L38.44,288.94 L37.00,290.38 L35.56,288.94 Z" fill="#111111" stroke="#111111" stroke-width="0.5"/>
<path d="M74.60,280.68 L76.04,282.12 L74.60,283.56 L73.16,282.12 Z" fill="#111111" stroke="#111111" stroke-width="0.5"/>
<path d="M112.10,318.85 L113.54,320.29 L112.10,321.73 L110.66,320.29 Z" fill="#111111" stroke="#111111" stroke-width="0.5"/>
<path d="M149.50,315.19 L150.94,316.63 L149.50,318.07 L148.06,316.63 Z" fill="#111111" stroke="#111111" stroke-width="0.5"/>
<path d="M187.00,318.00 L188.44,319.44 L187.00,320.88 L185.56,319.44 Z" fill="#111111" stroke="#111111" stroke-width="0.5"/>
<path d="M224.50,341.17 L225.94,342.61 L224.50,344.05 L223.06,342.61 Z" fill="#111111" stroke="#111111" stroke-width="0.5"/>
<polyline points="37.00,329.32 74.60,308.96 112.10,330.94 149.50,330.77 187.00,343.30 224.50,328.90" fill="none" stroke="#55a096" stroke-width="0.75" stroke-linejoin="round"/>
<line x1="37.00" y1="320.29" x2="37.00" y2="346.70" stroke="#777" stroke-width="0.6"/>
<line x1="35.70" y1="320.29" x2="38.30" y2="320.29" stroke="#777" stroke-width="0.6"/>
<line x1="35.70" y1="346.70" x2="38.30" y2="346.70" stroke="#777" stroke-width="0.6"/>
<line x1="74.60" y1="302.40" x2="74.60" y2="315.18" stroke="#777" stroke-width="0.6"/>
<line x1="73.30" y1="302.40" x2="75.90" y2="302.40" stroke="#777" stroke-width="0.6"/>
<line x1="73.30" y1="315.18" x2="75.90" y2="315.18" stroke="#777" stroke-width="0.6"/>
<line x1="112.10" y1="326.26" x2="112.10" y2="347.56" stroke="#777" stroke-width="0.6"/>
<line x1="110.80" y1="326.26" x2="113.40" y2="326.26" stroke="#777" stroke-width="0.6"/>
<line x1="110.80" y1="347.56" x2="113.40" y2="347.56" stroke="#777" stroke-width="0.6"/>
<line x1="149.50" y1="322.85" x2="149.50" y2="339.04" stroke="#777" stroke-width="0.6"/>
<line x1="148.20" y1="322.85" x2="150.80" y2="322.85" stroke="#777" stroke-width="0.6"/>
<line x1="148.20" y1="339.04" x2="150.80" y2="339.04" stroke="#777" stroke-width="0.6"/>
<line x1="187.00" y1="336.48" x2="187.00" y2="350.11" stroke="#777" stroke-width="0.6"/>
<line x1="185.70" y1="336.48" x2="188.30" y2="336.48" stroke="#777" stroke-width="0.6"/>
<line x1="185.70" y1="350.11" x2="188.30" y2="350.11" stroke="#777" stroke-width="0.6"/>
<line x1="224.50" y1="322.00" x2="224.50" y2="335.63" stroke="#777" stroke-width="0.6"/>
<line x1="223.20" y1="322.00" x2="225.80" y2="322.00" stroke="#777" stroke-width="0.6"/>
<line x1="223.20" y1="335.63" x2="225.80" y2="335.63" stroke="#777" stroke-width="0.6"/>
<circle cx="37.00" cy="329.32" r="1.20" fill="#2a7a66" stroke="#2a7a66" stroke-width="0.5"/>
<circle cx="74.60" cy="308.96" r="1.20" fill="#2a7a66" stroke="#2a7a66" stroke-width="0.5"/>
<circle cx="112.10" cy="330.94" r="1.20" fill="#2a7a66" stroke="#2a7a66" stroke-width="0.5"/>
<circle cx="149.50" cy="330.77" r="1.20" fill="#2a7a66" stroke="#2a7a66" stroke-width="0.5"/>
<circle cx="187.00" cy="343.30" r="1.20" fill="#2a7a66" stroke="#2a7a66" stroke-width="0.5"/>
<circle cx="224.50" cy="328.90" r="1.20" fill="#2a7a66" stroke="#2a7a66" stroke-width="0.5"/>
<line x1="32.80" y1="365.50" x2="48.00" y2="365.50" stroke="#f0a0a8" stroke-width="1.0"/>
<rect x="38.80" y="363.80" width="3.40" height="3.40" fill="#b0202e" stroke="#b0202e" stroke-width="0.5"/>
<text x="50.20" y="368.20" font-size="7.2" fill="#111" stroke="#111" stroke-width="0.25">Bl/6 p8</text>
<line x1="32.80" y1="375.30" x2="48.00" y2="375.30" stroke="#8898b8" stroke-width="1.0"/>
<path d="M40.50,373.57 L42.15,376.57 L38.85,376.57 Z" fill="#22365a" stroke="#22365a" stroke-width="0.5"/>
<text x="50.20" y="377.60" font-size="7.2" fill="#111" stroke="#111" stroke-width="0.25">FVB/N p8</text>
<line x1="32.80" y1="383.90" x2="48.00" y2="383.90" stroke="#d8a8c0" stroke-width="1.0"/>
<path d="M40.50,385.62 L42.15,382.62 L38.85,382.62 Z" fill="#8a3a66" stroke="#8a3a66" stroke-width="0.5"/>
<text x="50.20" y="386.30" font-size="7.2" fill="#111" stroke="#111" stroke-width="0.25">Balb/c p8</text>
<line x1="32.80" y1="394.30" x2="48.00" y2="394.30" stroke="#222222" stroke-width="1.0"/>
<path d="M40.50,392.50 L42.30,394.30 L40.50,396.10 L38.70,394.30 Z" fill="#111111" stroke="#111111" stroke-width="0.5"/>
<text x="50.20" y="396.10" font-size="7.2" fill="#111" stroke="#111" stroke-width="0.25">DBA1 p8</text>
<line x1="32.80" y1="403.30" x2="48.00" y2="403.30" stroke="#98c8b8" stroke-width="1.0"/>
<circle cx="40.50" cy="403.30" r="1.50" fill="#2a7a66" stroke="#2a7a66" stroke-width="0.5"/>
<text x="50.20" y="405.50" font-size="7.2" fill="#111" stroke="#111" stroke-width="0.25">GFP p5</text>
<text x="275.00" y="244.80" font-size="17.3" font-weight="bold" fill="#000" stroke="#000" stroke-width="0.3">D</text>
<text x="322.00" y="236.70" font-size="9.0" font-weight="bold" fill="#111" stroke="#111" stroke-width="0.36" textLength="166.8" lengthAdjust="spacingAndGlyphs">Effect of plating density on Bl/6 mMSCs</text>
<text x="346.40" y="246.60" font-size="9.0" font-weight="bold" fill="#111" stroke="#111" stroke-width="0.36" textLength="118.2" lengthAdjust="spacingAndGlyphs">in t-CFU and sc-CFU assays</text>
<line x1="304.60" y1="258.50" x2="304.60" y2="411.00" stroke="#3a3a3a" stroke-width="1.0"/>
<line x1="304.10" y1="410.50" x2="506.50" y2="410.50" stroke="#3a3a3a" stroke-width="1.0"/>
<line x1="301.80" y1="410.50" x2="304.60" y2="410.50" stroke="#3a3a3a" stroke-width="0.8"/>
<text x="301.20" y="412.80" font-size="6.6" text-anchor="end" fill="#1a1a1a" stroke="#1a1a1a" stroke-width="0.2">0</text>
<line x1="301.80" y1="388.79" x2="304.60" y2="388.79" stroke="#3a3a3a" stroke-width="0.8"/>
<text x="301.20" y="391.09" font-size="6.6" text-anchor="end" fill="#1a1a1a" stroke="#1a1a1a" stroke-width="0.2">10</text>
<line x1="301.80" y1="367.07" x2="304.60" y2="367.07" stroke="#3a3a3a" stroke-width="0.8"/>
<text x="301.20" y="369.37" font-size="6.6" text-anchor="end" fill="#1a1a1a" stroke="#1a1a1a" stroke-width="0.2">20</text>
<line x1="301.80" y1="345.36" x2="304.60" y2="345.36" stroke="#3a3a3a" stroke-width="0.8"/>
<text x="301.20" y="347.66" font-size="6.6" text-anchor="end" fill="#1a1a1a" stroke="#1a1a1a" stroke-width="0.2">30</text>
<line x1="301.80" y1="323.64" x2="304.60" y2="323.64" stroke="#3a3a3a" stroke-width="0.8"/>
<text x="301.20" y="325.94" font-size="6.6" text-anchor="end" fill="#1a1a1a" stroke="#1a1a1a" stroke-width="0.2">40</text>
<line x1="301.80" y1="301.93" x2="304.60" y2="301.93" stroke="#3a3a3a" stroke-width="0.8"/>
<text x="301.20" y="304.23" font-size="6.6" text-anchor="end" fill="#1a1a1a" stroke="#1a1a1a" stroke-width="0.2">50</text>
<line x1="301.80" y1="280.21" x2="304.60" y2="280.21" stroke="#3a3a3a" stroke-width="0.8"/>
<text x="301.20" y="282.51" font-size="6.6" text-anchor="end" fill="#1a1a1a" stroke="#1a1a1a" stroke-width="0.2">60</text>
<line x1="301.80" y1="258.50" x2="304.60" y2="258.50" stroke="#3a3a3a" stroke-width="0.8"/>
<text x="301.20" y="260.80" font-size="6.6" text-anchor="end" fill="#1a1a1a" stroke="#1a1a1a" stroke-width="0.2">70</text>
<line x1="312.50" y1="297.15" x2="312.50" y2="304.10" stroke="#2a2a2a" stroke-width="0.9"/>
<line x1="310.30" y1="297.15" x2="314.70" y2="297.15" stroke="#2a2a2a" stroke-width="0.9"/>
<line x1="324.50" y1="326.90" x2="324.50" y2="347.53" stroke="#2a2a2a" stroke-width="0.9"/>
<line x1="322.30" y1="326.90" x2="326.70" y2="326.90" stroke="#2a2a2a" stroke-width="0.9"/>
<rect x="308.45" y="304.10" width="7.7" height="106.40" fill="#e6193b" stroke="#5a0c18" stroke-width="0.8"/>
<rect x="320.25" y="347.53" width="7.7" height="62.97" fill="#1c5490" stroke="#0a1e38" stroke-width="0.7"/>
<text x="318.20" y="419.80" font-size="6.6" text-anchor="middle" fill="#1a1a1a" stroke="#1a1a1a" stroke-width="0.2">5</text>
<line x1="347.50" y1="267.62" x2="347.50" y2="274.13" stroke="#2a2a2a" stroke-width="0.9"/>
<line x1="345.30" y1="267.62" x2="349.70" y2="267.62" stroke="#2a2a2a" stroke-width="0.9"/>
<line x1="358.50" y1="302.36" x2="358.50" y2="314.31" stroke="#2a2a2a" stroke-width="0.9"/>
<line x1="356.30" y1="302.36" x2="360.70" y2="302.36" stroke="#2a2a2a" stroke-width="0.9"/>
<rect x="343.27" y="274.13" width="7.7" height="136.37" fill="#e6193b" stroke="#5a0c18" stroke-width="0.8"/>
<rect x="355.00" y="314.31" width="7.7" height="96.19" fill="#1c5490" stroke="#0a1e38" stroke-width="0.7"/>
<text x="352.99" y="419.80" font-size="6.6" text-anchor="middle" fill="#1a1a1a" stroke="#1a1a1a" stroke-width="0.2">10</text>
<line x1="381.50" y1="281.08" x2="381.50" y2="289.33" stroke="#2a2a2a" stroke-width="0.9"/>
<line x1="379.30" y1="281.08" x2="383.70" y2="281.08" stroke="#2a2a2a" stroke-width="0.9"/>
<line x1="393.50" y1="316.91" x2="393.50" y2="320.60" stroke="#2a2a2a" stroke-width="0.9"/>
<line x1="391.30" y1="316.91" x2="395.70" y2="316.91" stroke="#2a2a2a" stroke-width="0.9"/>
<rect x="378.09" y="289.33" width="7.7" height="121.17" fill="#e6193b" stroke="#5a0c18" stroke-width="0.8"/>
<rect x="389.75" y="320.60" width="7.7" height="89.90" fill="#1c5490" stroke="#0a1e38" stroke-width="0.7"/>
<text x="387.77" y="419.80" font-size="6.6" text-anchor="middle" fill="#1a1a1a" stroke="#1a1a1a" stroke-width="0.2">50</text>
<line x1="416.50" y1="306.49" x2="416.50" y2="315.39" stroke="#2a2a2a" stroke-width="0.9"/>
<line x1="414.30" y1="306.49" x2="418.70" y2="306.49" stroke="#2a2a2a" stroke-width="0.9"/>
<line x1="428.50" y1="322.56" x2="428.50" y2="327.33" stroke="#2a2a2a" stroke-width="0.9"/>
<line x1="426.30" y1="322.56" x2="430.70" y2="322.56" stroke="#2a2a2a" stroke-width="0.9"/>
<rect x="412.91" y="315.39" width="7.7" height="95.11" fill="#e6193b" stroke="#5a0c18" stroke-width="0.8"/>
<rect x="424.50" y="327.33" width="7.7" height="83.17" fill="#1c5490" stroke="#0a1e38" stroke-width="0.7"/>
<text x="422.56" y="419.80" font-size="6.6" text-anchor="middle" fill="#1a1a1a" stroke="#1a1a1a" stroke-width="0.2">100</text>
<line x1="451.50" y1="324.73" x2="451.50" y2="334.07" stroke="#2a2a2a" stroke-width="0.9"/>
<line x1="449.30" y1="324.73" x2="453.70" y2="324.73" stroke="#2a2a2a" stroke-width="0.9"/>
<line x1="463.50" y1="346.66" x2="463.50" y2="352.31" stroke="#2a2a2a" stroke-width="0.9"/>
<line x1="461.30" y1="346.66" x2="465.70" y2="346.66" stroke="#2a2a2a" stroke-width="0.9"/>
<rect x="447.73" y="334.07" width="7.7" height="76.43" fill="#e6193b" stroke="#5a0c18" stroke-width="0.8"/>
<rect x="459.25" y="352.31" width="7.7" height="58.19" fill="#1c5490" stroke="#0a1e38" stroke-width="0.7"/>
<text x="457.34" y="419.80" font-size="6.6" text-anchor="middle" fill="#1a1a1a" stroke="#1a1a1a" stroke-width="0.2">500</text>
<line x1="486.50" y1="332.33" x2="486.50" y2="339.28" stroke="#2a2a2a" stroke-width="0.9"/>
<line x1="484.30" y1="332.33" x2="488.70" y2="332.33" stroke="#2a2a2a" stroke-width="0.9"/>
<line x1="497.50" y1="342.32" x2="497.50" y2="344.49" stroke="#2a2a2a" stroke-width="0.9"/>
<line x1="495.30" y1="342.32" x2="499.70" y2="342.32" stroke="#2a2a2a" stroke-width="0.9"/>
<rect x="482.55" y="339.28" width="7.7" height="71.22" fill="#e6193b" stroke="#5a0c18" stroke-width="0.8"/>
<rect x="494.00" y="344.49" width="7.7" height="66.01" fill="#1c5490" stroke="#0a1e38" stroke-width="0.7"/>
<text x="492.13" y="419.80" font-size="6.6" text-anchor="middle" fill="#1a1a1a" stroke="#1a1a1a" stroke-width="0.2">1000</text>
<rect x="437.1" y="277.8" width="13.4" height="4.9" fill="#e6193b" stroke="#4a0a14" stroke-width="0.6"/>
<rect x="437.1" y="288.4" width="13.4" height="4.9" fill="#1c5490" stroke="#0a1e38" stroke-width="0.6"/>
<text x="452.50" y="283.40" font-size="8.5" fill="#111" stroke="#111" stroke-width="0.3" textLength="19.7" lengthAdjust="spacingAndGlyphs">t-CFU</text>
<text x="452.50" y="293.60" font-size="8.5" fill="#111" stroke="#111" stroke-width="0.3" textLength="25.7" lengthAdjust="spacingAndGlyphs">sc-CFU</text>
<text x="334.3" y="433.9" font-size="10.7" font-weight="bold" fill="#111" stroke="#111" stroke-width="0.28" textLength="131.5" lengthAdjust="spacingAndGlyphs">Plating Density (cells/cm<tspan font-size="7.6" dy="-4.8">2</tspan><tspan dy="4.8">)</tspan></text>
<text x="286.90" y="372.00" font-size="10.4" font-weight="bold" fill="#111" stroke="#111" stroke-width="0.28" textLength="86" lengthAdjust="spacingAndGlyphs" transform="rotate(-90 286.90 372.00)">Colonies counted</text>
</svg>
</body></html>
